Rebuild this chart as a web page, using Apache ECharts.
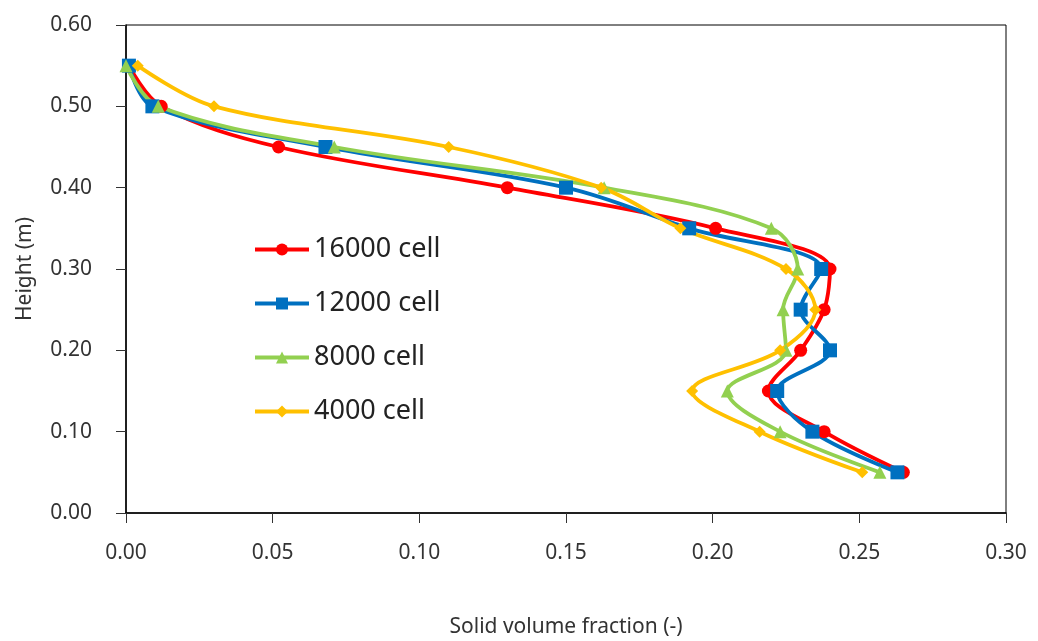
<!DOCTYPE html>
<html>
<head>
<meta charset="utf-8">
<script src="https://cdn.jsdelivr.net/npm/echarts@6/dist/echarts.min.js"></script>
<style>
  html, body { margin: 0; padding: 0; background: #fff; }
  #main { width: 1038px; height: 641px; }
</style>
</head>
<body>
<div id="main"></div>
<script>
// 高度 (m)
var heights = [0.55, 0.50, 0.45, 0.40, 0.35, 0.30, 0.25, 0.20, 0.15, 0.10, 0.05];
// solid volume fraction for each mesh
var cell16000 = [0.001, 0.012, 0.052, 0.130, 0.201, 0.240, 0.238, 0.230, 0.219, 0.238, 0.265];
var cell12000 = [0.001, 0.009, 0.068, 0.150, 0.192, 0.237, 0.230, 0.240, 0.222, 0.234, 0.263];
var cell8000  = [0.000, 0.011, 0.071, 0.163, 0.220, 0.229, 0.224, 0.225, 0.205, 0.223, 0.257];
var cell4000  = [0.004, 0.030, 0.110, 0.162, 0.189, 0.225, 0.235, 0.223, 0.193, 0.216, 0.251];
var seriesNames = ['16000 cell', '12000 cell', '8000 cell', '4000 cell'];

function pairs(xs) {
    var out = [];
    for (var i = 0; i < xs.length; i++) {
        out.push([xs[i], heights[i]]);
    }
    return out;
}

var chartDom = document.getElementById('main');
var myChart = echarts.init(chartDom);
var font = '"Noto Sans", sans-serif';

function makeSeries(name, data, color, symbol, size) {
    return {
        name: name,
        type: 'line',
        smooth: 0.35,
        symbol: symbol,
        symbolSize: size,
        showSymbol: true,
        itemStyle: { color: color },
        lineStyle: { color: color, width: 3.8 },
        data: pairs(data)
    };
}

var option = {
    animation: false,
    backgroundColor: '#fff',
    grid: {
        left: 126,
        right: 32,
        top: 25,
        bottom: 128,
        outerBoundsMode: 'none',
        containLabel: false,
        show: true,
        borderColor: '#000',
        borderWidth: 1
    },
    legend: {
        orient: 'vertical',
        left: 248,
        top: 231,
        itemWidth: 54,
        itemHeight: 15,
        itemGap: 27,
        lineStyle: { width: 4 },
        textStyle: { fontFamily: font, fontSize: 27, color: '#222' },
        data: seriesNames
    },
    xAxis: {
        type: 'value',
        min: 0,
        max: 0.3,
        interval: 0.05,
        name: 'Solid volume fraction (-)',
        nameLocation: 'middle',
        nameGap: 104,
        nameTextStyle: { fontFamily: font, fontSize: 21, color: '#333' },
        axisLine: { show: true, lineStyle: { color: '#000', width: 1.5 } },
        axisTick: { show: true, inside: false, length: 10, lineStyle: { color: '#333' } },
        axisLabel: {
            fontFamily: font, fontSize: 21, color: '#333', margin: 30,
            formatter: function (v) { return v.toFixed(2); }
        },
        splitLine: { show: false }
    },
    yAxis: {
        type: 'value',
        min: 0,
        max: 0.6,
        interval: 0.1,
        name: 'Height (m)',
        nameLocation: 'middle',
        nameGap: 90,
        nameTextStyle: { fontFamily: font, fontSize: 21, color: '#333' },
        axisLine: { show: true, lineStyle: { color: '#000', width: 1.5 } },
        axisTick: { show: true, inside: false, length: 10, lineStyle: { color: '#333' } },
        axisLabel: {
            fontFamily: font, fontSize: 21, color: '#333', margin: 34,
            formatter: function (v) { return v.toFixed(2); }
        },
        splitLine: { show: false }
    },
    series: [
        makeSeries(seriesNames[0], cell16000, '#FF0000', 'circle', 13),
        makeSeries(seriesNames[1], cell12000, '#0070C0', 'rect', 14),
        makeSeries(seriesNames[2], cell8000, '#92D050', 'triangle', 13),
        makeSeries(seriesNames[3], cell4000, '#FFC000', 'diamond', 12)
    ]
};
myChart.setOption(option);
</script>
</body>
</html>
